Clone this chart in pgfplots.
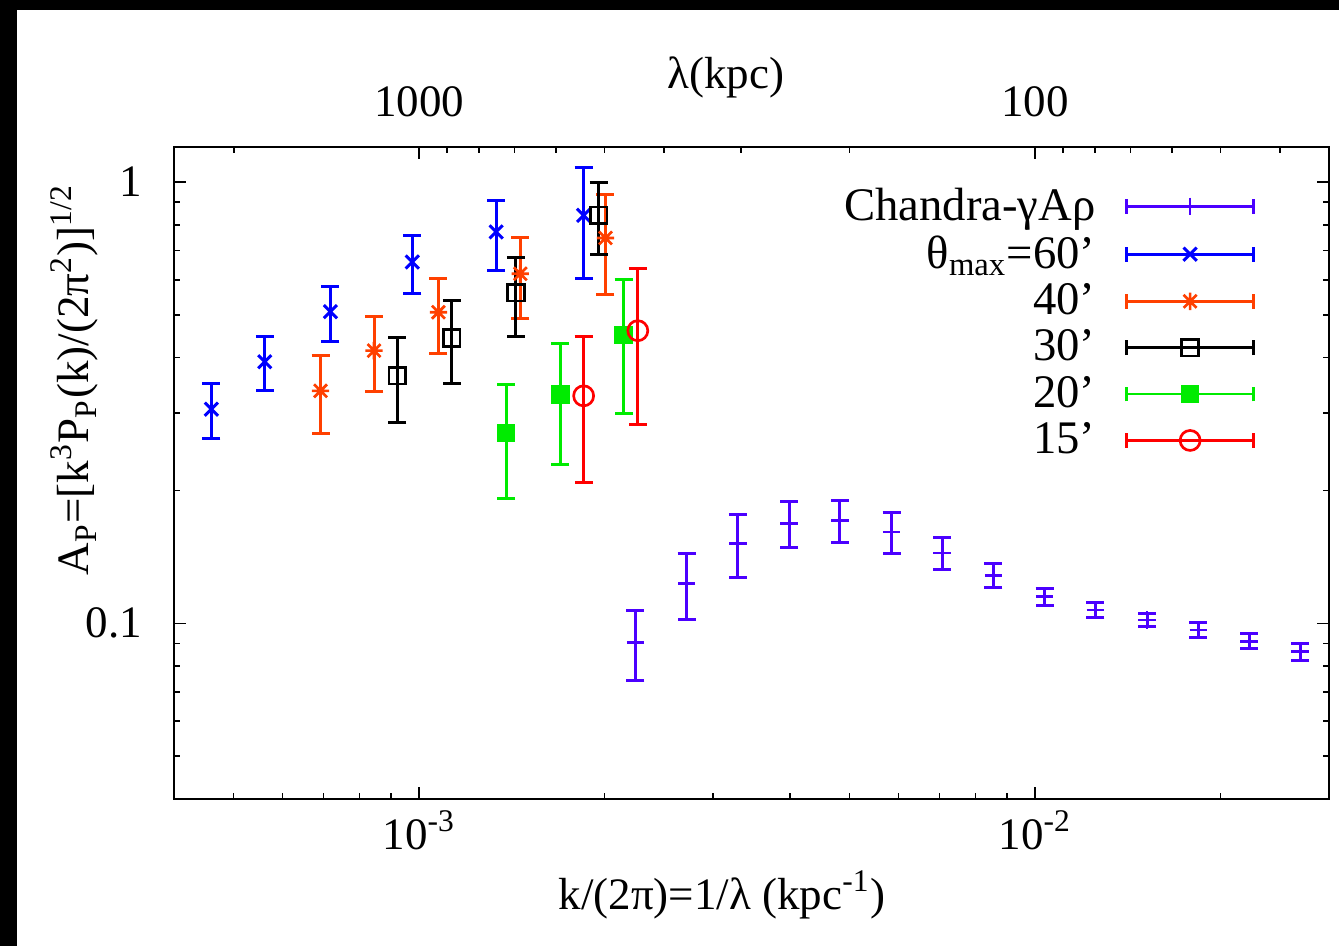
\documentclass[border=0pt]{standalone}
\usepackage{fontspec}
\setmainfont{Liberation Serif}
\usepackage{pgfplots}
\pgfplotsset{compat=1.18}

\definecolor{cchandra}{RGB}{75,0,255}
\definecolor{c60}{RGB}{0,0,255}
\definecolor{c40}{RGB}{255,64,0}
\definecolor{c30}{RGB}{0,0,0}
\definecolor{c20}{RGB}{0,235,0}
\definecolor{c15}{RGB}{255,0,0}

% eight-armed star: a plus and a cross drawn on top of each other
\pgfdeclareplotmark{pluscross}{%
  \pgfpathmoveto{\pgfqpoint{-\pgfplotmarksize}{0pt}}%
  \pgfpathlineto{\pgfqpoint{\pgfplotmarksize}{0pt}}%
  \pgfpathmoveto{\pgfqpoint{0pt}{-\pgfplotmarksize}}%
  \pgfpathlineto{\pgfqpoint{0pt}{\pgfplotmarksize}}%
  \pgfpathmoveto{\pgfqpoint{-0.75\pgfplotmarksize}{-0.75\pgfplotmarksize}}%
  \pgfpathlineto{\pgfqpoint{0.75\pgfplotmarksize}{0.75\pgfplotmarksize}}%
  \pgfpathmoveto{\pgfqpoint{-0.75\pgfplotmarksize}{0.75\pgfplotmarksize}}%
  \pgfpathlineto{\pgfqpoint{0.75\pgfplotmarksize}{-0.75\pgfplotmarksize}}%
  \pgfusepathqstroke}

\begin{document}
\begin{tikzpicture}
\useasboundingbox (0pt,0pt) rectangle (401.7pt,283.8pt);
\fill[black] (0pt,0pt) rectangle (401.7pt,283.8pt);
\fill[white] (5pt,0pt) rectangle (401.7pt,280.8pt);

% lower / left axes: wavenumber and amplitude
\begin{axis}[
  scale only axis, width=346.5pt, height=195.6pt,
  at={(52.2pt,44.1pt)}, anchor=south west,
  xmode=log, ymode=log,
  xmin=4e-4, xmax=0.03, ymin=0.04, ymax=1.2,
  tick align=inside,
  major tick length=3.6pt, minor tick length=1.8pt,
  tick style={black, line width=0.5pt},
  axis line style={line width=0.8pt},
  font=\fontsize{13.5}{16}\selectfont,
  xtick={0.001,0.01},
  xticklabels={10\textsuperscript{-3},10\textsuperscript{-2}},
  minor xtick={5e-4,6e-4,7e-4,8e-4,9e-4,2e-3,3e-3,4e-3,5e-3,6e-3,7e-3,8e-3,9e-3,2e-2},
  xtick pos=left,
  ytick={0.1,1}, yticklabels={0.1,1},
  yticklabel style={xshift=-6pt},
  minor ytick={0.05,0.06,0.07,0.08,0.09,0.2,0.3,0.4,0.5,0.6,0.7,0.8,0.9},
  ytick pos=both, yticklabel pos=left,
  xlabel={k/(2π)=1/λ (kpc\textsuperscript{-1})},
  ylabel={A\textsubscript{P}=[k\textsuperscript{3}P\textsubscript{P}(k)/(2π\textsuperscript{2})]\textsuperscript{1/2}},
  xlabel style={at={(axis description cs:0.4745,-0.147)}, anchor=center},
  ylabel style={at={(axis description cs:-0.086,0.643)}, anchor=center},
  legend style={at={(axis description cs:0.945,0.954)}, anchor=north east,
    draw=none, fill=none, row sep=1.1pt, column sep=8pt,
    font=\fontsize{14}{16}\selectfont,
    nodes={inner sep=1pt}},
  legend cell align=right,
  legend plot pos=right,
  legend image code/.code={
    \draw[mark=none,#1,line width=0.8pt] (0pt,0pt) -- (38pt,0pt);
    \draw[mark=none,#1,line width=0.8pt] (0pt,-2.2pt) -- (0pt,2.2pt);
    \draw[mark=none,#1,line width=0.8pt] (38pt,-2.2pt) -- (38pt,2.2pt);
    \draw[mark repeat=2,mark phase=2,#1] plot coordinates {(0pt,0pt) (19pt,0pt) (38pt,0pt)};
  },
  error bars/y dir=both, error bars/y explicit,
  error bars/error bar style={line width=0.9pt, solid},
  error bars/error mark options={rotate=90, mark size=2.7pt, line width=0.9pt, solid},
]

% Chandra
\addplot[only marks, color=cchandra, mark=+, mark size=2.6pt, mark options={line width=0.8pt, solid}] coordinates {
  (2.245e-3,0.0906) +- (0,0.0165)
  (2.719e-3,0.1229) +- (0,0.0208)
  (3.294e-3,0.1518) +- (0,0.0245)
  (3.988e-3,0.1684) +- (0,0.0201)
  (4.822e-3,0.1710) +- (0,0.0188)
  (5.850e-3,0.1612) +- (0,0.0172)
  (7.063e-3,0.1443) +- (0,0.0120)
  (8.560e-3,0.1285) +- (0,0.0079)
  (1.036e-2,0.1150) +- (0,0.0050)
  (1.253e-2,0.1073) +- (0,0.0041)
  (1.520e-2,0.1018) +- (0,0.0036)
  (1.840e-2,0.0966) +- (0,0.0039)
  (2.225e-2,0.0911) +- (0,0.0036)
  (2.693e-2,0.0863) +- (0,0.0039)
};
\addlegendentry{Chandra-γAρ}

% theta_max = 60'
\addplot[only marks, color=c60, mark=x, mark size=2.8pt, mark options={line width=0.9pt, solid}] coordinates {
  (4.600e-4,0.3056) +- (0,0.0430)
  (5.617e-4,0.3915) +- (0,0.0543)
  (7.180e-4,0.5083) +- (0,0.0723)
  (9.750e-4,0.6587) +- (0,0.0985)
  (1.334e-3,0.7705) +- (0,0.1396)
  (1.850e-3,0.8404) +- (0,0.2363)
};
\addlegendentry{θ\textsubscript{max}=60’}

% 40'
\addplot[only marks, color=c40, mark=pluscross, mark size=2.6pt, mark options={line width=0.8pt, solid}] coordinates {
  (6.918e-4,0.3363) +- (0,0.0675)
  (8.450e-4,0.4148) +- (0,0.0802)
  (1.075e-3,0.5069) +- (0,0.0982)
  (1.460e-3,0.6195) +- (0,0.1292)
  (2.007e-3,0.7467) +- (0,0.1916)
};
\addlegendentry{40’}

% 30'
\addplot[only marks, color=c30, mark=square, mark size=2.5pt, mark options={line width=0.8pt, solid}] coordinates {
  (9.220e-4,0.3639) +- (0,0.0795)
  (1.130e-3,0.4431) +- (0,0.0943)
  (1.436e-3,0.5609) +- (0,0.1138)
  (1.957e-3,0.8404) +- (0,0.1548)
};
\addlegendentry{30’}

% 20'
\addplot[only marks, color=c20, mark=square*, mark size=2.4pt, mark options={line width=0.8pt, solid}] coordinates {
  (1.384e-3,0.2699) +- (0,0.0780)
  (1.696e-3,0.3294) +- (0,0.1006)
  (2.149e-3,0.4500) +- (0,0.1510)
};
\addlegendentry{20’}

% 15'
\addplot[only marks, color=c15, mark=o, mark size=3pt, mark options={line width=0.8pt, solid}] coordinates {
  (1.850e-3,0.3277) +- (0,0.1197)
  (2.265e-3,0.4603) +- (0,0.1777)
};
\addlegendentry{15’}
\end{axis}

% upper axis: wavelength
\begin{axis}[
  scale only axis, width=346.5pt, height=195.6pt,
  at={(52.2pt,44.1pt)}, anchor=south west,
  xmode=log, ymode=log,
  xmin=4e-4, xmax=0.03, ymin=0.04, ymax=1.2,
  tick align=inside,
  major tick length=3.6pt, minor tick length=1.8pt,
  tick style={black, line width=0.5pt},
  axis line style={line width=0.8pt},
  font=\fontsize{13.5}{16}\selectfont,
  axis x line*=top, hide y axis,
  xtick={0.001,0.01}, xticklabels={1000,100},
  xticklabel style={yshift=5.4pt},
  minor xtick={5e-4,0.00111111,0.00125,0.00142857,0.00166667,0.002,0.0025,0.00333333,0.005,0.0111111,0.0125,0.0142857,0.0166667,0.02,0.025},
  xlabel={λ(kpc)},
  xlabel style={at={(axis description cs:0.478,1.106)}, anchor=center},
]
\addplot[draw=none, mark=none] coordinates {(1e-3,0.1) (1e-2,0.2)};
\end{axis}
\end{tikzpicture}
\end{document}
